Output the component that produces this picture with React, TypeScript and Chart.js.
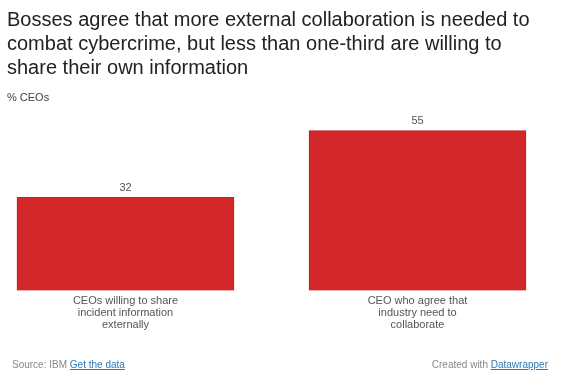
import React, { useEffect, useRef } from "react";
import { Chart, registerables } from "chart.js";

Chart.register(...registerables);

const titleLines = [
  "Bosses agree that more external collaboration is needed to",
  "combat cybercrime, but less than one-third are willing to",
  "share their own information",
];
const subtitle = "% CEOs";
const categories = [
  ["CEOs willing to share", "incident information", "externally"],
  ["CEO who agree that", "industry need to", "collaborate"],
];
const values = [32, 55];
const yMax = 60;

const FONT = "'Liberation Sans', Arial, Helvetica, sans-serif";

const valueLabels = {
  id: "valueLabels",
  afterDatasetsDraw(chart: any) {
    const ctx = chart.ctx;
    const meta = chart.getDatasetMeta(0);
    ctx.save();
    ctx.font = `11px ${FONT}`;
    ctx.fillStyle = "#555555";
    ctx.textAlign = "center";
    ctx.textBaseline = "alphabetic";
    meta.data.forEach((el: any, i: number) => {
      ctx.fillText(String(values[i]), el.x, el.y - 6.5);
    });
    ctx.restore();
  },
};

export default function App() {
  const ref = useRef<HTMLCanvasElement | null>(null);

  useEffect(() => {
    if (!ref.current) return;
    const chart = new Chart(ref.current, {
      type: "bar",
      data: {
        labels: categories,
        datasets: [
          {
            data: values,
            backgroundColor: "#d42729",
            borderColor: "#bd2224",
            borderWidth: 1,
            barThickness: 217,
            clip: false,
          } as any,
        ],
      },
      options: {
        responsive: false,
        animation: false,
        devicePixelRatio: 1,
        layout: { padding: { left: 125.5, right: 146.5, top: 116, bottom: 44.5 } },
        plugins: {
          legend: { display: false },
          tooltip: { enabled: false },
        },
        scales: {
          x: {
            type: "category",
            offset: false,
            grid: { display: false, drawTicks: false },
            border: { display: false },
            ticks: {
              color: "#555555",
              font: { family: FONT, size: 11, lineHeight: 1.12 },
              padding: 4,
              maxRotation: 0,
              autoSkip: false,
            },
          },
          y: { display: false, min: 0, max: yMax },
        },
      },
      plugins: [valueLabels],
    });
    return () => chart.destroy();
  }, []);

  return (
    <div
      style={{
        position: "fixed",
        left: 0,
        top: 0,
        width: 564,
        height: 380,
        background: "#ffffff",
        fontFamily: FONT,
        overflow: "hidden",
      }}
    >
      <canvas
        ref={ref}
        width={564}
        height={380}
        style={{ position: "absolute", left: 0, top: 0, width: 564, height: 380 }}
      />
      <div
        style={{
          position: "absolute",
          left: 7,
          top: 7,
          fontSize: 20,
          lineHeight: "24px",
          color: "#222222",
          whiteSpace: "nowrap",
        }}
      >
        {titleLines.map((l, i) => (
          <div key={i}>{l}</div>
        ))}
      </div>
      <div
        style={{
          position: "absolute",
          left: 7,
          top: 92,
          fontSize: 11,
          lineHeight: "11px",
          color: "#444444",
        }}
      >
        {subtitle}
      </div>
      <div
        style={{
          position: "absolute",
          left: 12,
          top: 360,
          fontSize: 10,
          lineHeight: "10px",
          color: "#888888",
          whiteSpace: "nowrap",
        }}
      >
        Source: IBM{" "}
        <span style={{ color: "#2f78b5", textDecoration: "underline" }}>Get the data</span>
      </div>
      <div
        style={{
          position: "absolute",
          right: 16,
          top: 360,
          fontSize: 10,
          lineHeight: "10px",
          color: "#888888",
          whiteSpace: "nowrap",
        }}
      >
        Created with{" "}
        <span style={{ color: "#2f78b5", textDecoration: "underline" }}>Datawrapper</span>
      </div>
    </div>
  );
}
